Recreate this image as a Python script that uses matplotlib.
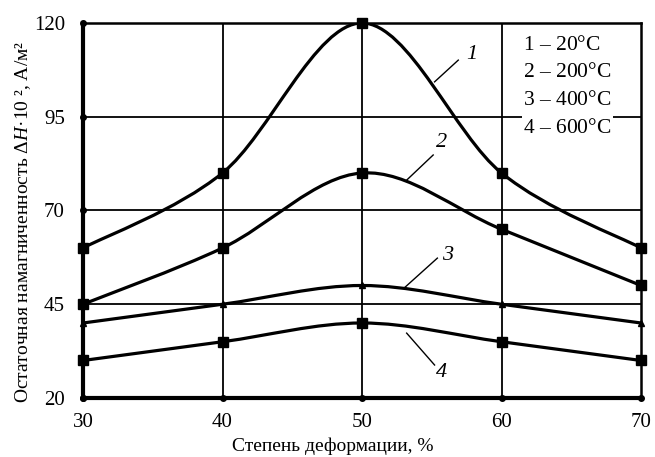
import matplotlib
matplotlib.use('Agg')
import matplotlib.pyplot as plt
import numpy as np
from matplotlib.path import Path
from matplotlib.patches import PathPatch

plt.rcParams['font.family'] = ['Liberation Serif', 'DejaVu Serif']
plt.rcParams['mathtext.fontset'] = 'custom'
plt.rcParams['mathtext.rm'] = 'Liberation Serif'
plt.rcParams['mathtext.it'] = 'Liberation Serif:italic'

# data
deform = [30, 40, 50, 60, 70]
s1 = [60, 80, 120, 80, 60]   # 20 C
s2 = [45, 60, 80, 65, 50]    # 200 C
s3 = [40, 45, 50, 45, 40]    # 400 C
s4 = [30, 35, 40, 35, 30]    # 600 C
legend_lines = ['$\\it{1}$ – 20°C', '$\\it{2}$ – 200°C', '$\\it{3}$ – 400°C', '$\\it{4}$ – 600°C']
xticks = [30, 40, 50, 60, 70]
yticks = [20, 45, 70, 95, 120]


def smooth_path(x, y, k=1/6):
    # catmull-rom -> cubic bezier through the data points
    x = np.asarray(x, float)
    y = np.asarray(y, float)
    px = np.concatenate([[x[0]], x, [x[-1]]])
    py = np.concatenate([[y[0]], y, [y[-1]]])
    verts = [(x[0], y[0])]
    codes = [Path.MOVETO]
    for i in range(1, len(x)):
        c1 = (px[i] + (px[i + 1] - px[i - 1]) * k, py[i] + (py[i + 1] - py[i - 1]) * k)
        c2 = (px[i + 1] - (px[i + 2] - px[i]) * k, py[i + 1] - (py[i + 2] - py[i]) * k)
        verts += [c1, c2, (x[i], y[i])]
        codes += [Path.CURVE4] * 3
    return Path(verts, codes)


fig = plt.figure(figsize=(6.55, 4.57), dpi=100)
ax = fig.add_axes([0.1267, 0.1291, 0.852, 0.8206])

ax.set_xlim(30, 70)
ax.set_ylim(20, 120)

for v in [40, 50, 60]:
    ax.axvline(v, color='black', lw=1.3, zorder=1)
for v in [45, 70, 95]:
    ax.axhline(v, color='black', lw=1.3, zorder=1)

for ys, m, ms in [(s1, 's', 6.5), (s2, 's', 6.5), (s3, '^', 4), (s4, 's', 6.5)]:
    ax.add_patch(PathPatch(smooth_path(deform, ys), fill=False, lw=2.3, color='black', zorder=3, capstyle='round'))
    ax.plot(deform, ys, ls='none', marker=m, ms=ms, color='black', zorder=4, clip_on=False)

for side in ['left', 'bottom']:
    ax.spines[side].set_linewidth(3)
for side in ['top', 'right']:
    ax.spines[side].set_linewidth(1.8)

ax.plot([30] * len(yticks), yticks, 'o', ms=4, color='black', clip_on=False, zorder=5)
ax.plot(xticks, [20] * len(xticks), 'o', ms=4, color='black', clip_on=False, zorder=5)

ax.set_xticks(xticks)
ax.set_yticks(yticks)
ax.tick_params(axis='x', length=0, labelsize=15, pad=11)
ax.tick_params(axis='y', length=0, labelsize=15, pad=13)
ax.set_xlabel('Степень деформации, %', fontsize=14)
ax.set_ylabel('Остаточная намагниченность Δ$\\it{H}$·10 ², А/м²', fontsize=14)
ax.xaxis.set_label_coords(0.448, -0.105)
ax.yaxis.set_label_coords(-0.09, 0.47)

ax.text(0.789, 0.966, '\n'.join(legend_lines), transform=ax.transAxes, fontsize=15.5,
        va='top', ha='left', linespacing=1.62, zorder=6,
        bbox=dict(facecolor='white', edgecolor='none', pad=1))

labels = [('1', (57.9, 111.5), (56.9, 110.1), (55.2, 104.3)),
          ('2', (55.7, 88.0), (55.1, 84.8), (53.2, 78.1)),
          ('3', (56.1, 58.1), (55.4, 57.3), (53.1, 49.6)),
          ('4', (55.7, 26.7), (55.2, 28.8), (53.2, 37.3))]
for txt, tpos, a, b in labels:
    ax.plot([a[0], b[0]], [a[1], b[1]], color='black', lw=1.0, zorder=5)
    ax.text(tpos[0], tpos[1], txt, fontsize=16, style='italic', ha='center', va='center', zorder=6)

fig.savefig('out.png', dpi=100)
